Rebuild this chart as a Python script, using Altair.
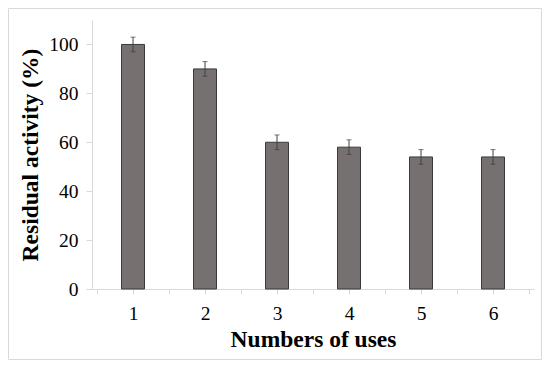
import altair as alt
import pandas as pd

uses = [1, 2, 3, 4, 5, 6]
activity = [100, 90, 60, 58, 54, 54]
errors = [3, 3, 3, 3, 3, 3]

df = pd.DataFrame({"uses": uses, "activity": activity, "err": errors})
df["lo"] = df["activity"] - df["err"]
df["hi"] = df["activity"] + df["err"]

FONT = "Liberation Serif"
xscale = alt.Scale(domain=[0.5, 6.5], nice=False, zero=False)
yscale = alt.Scale(domain=[0, 110], nice=False)

xaxis = alt.Axis(
    values=[0.5, 1, 1.5, 2, 2.5, 3, 3.5, 4, 4.5, 5, 5.5, 6, 6.5],
    labelExpr="datum.value % 1 == 0 ? format(datum.value, 'd') : ''",
    labelOverlap=False,
    labelFlush=False,
    title="Numbers of uses",
    grid=False,
    tickSize=5,
    labelPadding=10,
    titlePadding=5,
)
yaxis = alt.Axis(
    values=[0, 20, 40, 60, 80, 100],
    title="Residual activity (%)",
    grid=False,
    tickSize=6,
    labelPadding=8,
    titlePadding=6,
)

bars = alt.Chart(df).mark_bar(
    size=23, color="#767070", stroke="#3a3a3a", strokeWidth=1
).encode(
    x=alt.X("uses:Q", scale=xscale, axis=xaxis),
    y=alt.Y("activity:Q", scale=yscale, axis=yaxis),
)

err = alt.Chart(df).mark_errorbar(ticks=alt.MarkConfig(size=5), color="#404040", thickness=1).encode(
    x=alt.X("uses:Q", scale=xscale, axis=xaxis),
    y=alt.Y("lo:Q", scale=yscale, axis=yaxis),
    y2="hi:Q",
)

frame = alt.Chart(pd.DataFrame({"a": [0]})).mark_rect(
    fill=None, stroke="#d9d9d9", strokeWidth=1, clip=False
).encode(
    x=alt.value(-83.5), x2=alt.value(449.5), y=alt.value(-11.5), y2=alt.value(339.5)
)

chart = alt.layer(bars, err, frame).properties(
    width=442, height=269,
    autosize=alt.AutoSizeParams(type="none"),
    padding={"left": 84, "top": 12, "right": 8, "bottom": 71},
).configure_view(stroke=None).configure_axis(
    domainColor="#d9d9d9", tickColor="#d9d9d9",
    labelFont=FONT, labelFontSize=19.5, labelColor="#000000",
    titleFont=FONT, titleFontSize=23.5, titleFontWeight="bold", titleColor="#000000",
)

chart.save("out.html", embed_options={"renderer": "svg", "actions": False})
